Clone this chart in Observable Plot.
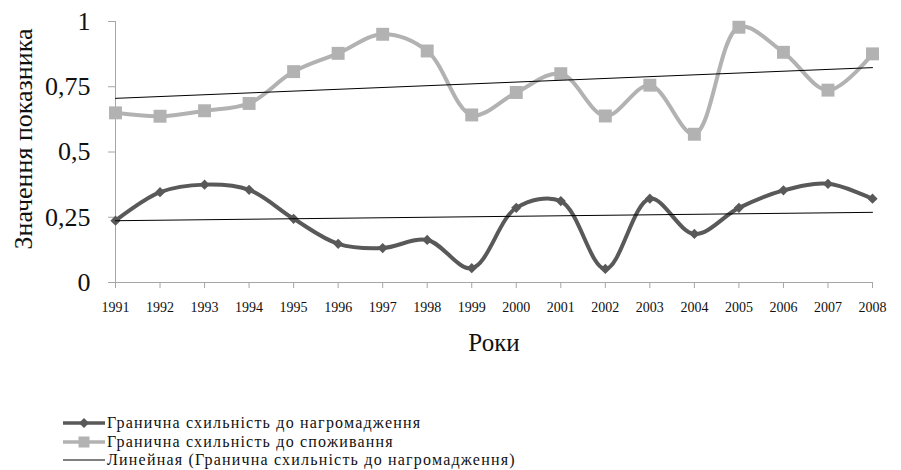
<!DOCTYPE html>
<html><head><meta charset="utf-8">
<script src="https://cdn.jsdelivr.net/npm/d3@7"></script>
<script src="https://cdn.jsdelivr.net/npm/@observablehq/plot@0.6"></script>
<style>
body{margin:0;background:#fff;font-family:"Liberation Serif","DejaVu Serif","Times New Roman",serif;}
#wrap{position:relative;width:901px;height:470px;}
#legend{position:absolute;left:63px;top:414px;font-size:16px;letter-spacing:1.2px;color:#111;line-height:18.5px;}
#legend div{display:flex;align-items:center;height:18.5px;white-space:nowrap;}
#legend svg{margin-right:2px;flex:none;}
</style>
</head><body>
<div id="wrap"><div id="chart"></div>
<div id="legend"></div></div>
<script>
const years = [1991,1992,1993,1994,1995,1996,1997,1998,1999,2000,2001,2002,2003,2004,2005,2006,2007,2008];
const accumulation = [0.237,0.346,0.375,0.355,0.244,0.148,0.132,0.163,0.055,0.286,0.312,0.052,0.321,0.186,0.286,0.353,0.378,0.321];
const consumption = [0.650,0.637,0.658,0.686,0.808,0.878,0.951,0.887,0.642,0.728,0.800,0.638,0.756,0.568,0.978,0.882,0.737,0.876];
const yTicks = [0,0.25,0.5,0.75,1];
const yTickLabels = ["0","0,25","0,5","0,75","1"];
const seriesNames = ["Гранична схильність до нагромадження","Гранична схильність до споживання","Линейная (Гранична схильність до нагромадження)"];
const xTitle = "Роки";
const yTitle = "Значення показника";

const FONT = '"Liberation Serif","DejaVu Serif","Times New Roman",serif';
const dark = "#595959", light = "#b2b2b2", axisCol = "#a6a6a6";
const accData = years.map((x,i)=>({x, y: accumulation[i]}));
const conData = years.map((x,i)=>({x, y: consumption[i]}));

const H = 400;
const chart = Plot.plot({
  width: 901, height: H,
  marginLeft: 115, marginRight: 29, marginTop: 21, marginBottom: H-282,
  style: {fontFamily: FONT, background: "transparent", color: "#111", overflow: "visible"},
  x: {domain: [1991, 2008]},
  y: {domain: [0, 1]},
  marks: [
    Plot.axisY({ticks: yTicks, tickFormat: (d)=>yTickLabels[yTicks.indexOf(d)], tickSize: 7, tickPadding: 18, stroke: axisCol, fontSize: 26, fontFamily: FONT, label: null}),
    Plot.axisX({ticks: years, tickFormat: d=>String(d), tickSize: 6, tickPadding: 14, stroke: axisCol, fontSize: 14, fontFamily: FONT, label: null}),
    Plot.ruleX([1991], {stroke: axisCol}),
    Plot.ruleY([0], {stroke: axisCol}),
    Plot.text([yTitle], {frameAnchor: "left", textAnchor: "middle", rotate: -90, dx: -92, dy: -13, fontSize: 26, fill: "#111", fontFamily: FONT}),
    Plot.text([xTitle], {frameAnchor: "bottom", textAnchor: "middle", dy: 68, fontSize: 25, fill: "#111", fontFamily: FONT}),
    Plot.line(conData, {x: "x", y: "y", stroke: light, strokeWidth: 4, curve: "catmull-rom"}),
    Plot.dot(conData, {x: "x", y: "y", symbol: "square", r: 7.3, fill: light, stroke: "none"}),
    Plot.line(accData, {x: "x", y: "y", stroke: dark, strokeWidth: 4, curve: "catmull-rom"}),
    Plot.dot(accData, {x: "x", y: "y", symbol: "diamond2", r: 4.6, fill: dark, stroke: "none"}),
    Plot.linearRegressionY(accData, {x: "x", y: "y", stroke: "#000", strokeWidth: 1, ci: 0}),
    Plot.linearRegressionY(conData, {x: "x", y: "y", stroke: "#000", strokeWidth: 1, ci: 0})
  ]
});
document.getElementById("chart").appendChild(chart);

const lg = document.getElementById("legend");
const sym = [
  `<svg width="42" height="12"><line x1="0" y1="6" x2="42" y2="6" stroke="${dark}" stroke-width="3.5"/><path d="M21 1 L26 6 L21 11 L16 6Z" fill="${dark}"/></svg>`,
  `<svg width="42" height="12"><line x1="0" y1="6" x2="42" y2="6" stroke="${light}" stroke-width="3.5"/><rect x="15.5" y="0.5" width="11" height="11" fill="${light}"/></svg>`,
  `<svg width="42" height="12"><line x1="0" y1="6" x2="42" y2="6" stroke="#000" stroke-width="1"/></svg>`
];
seriesNames.forEach((n,i)=>{
  const d = document.createElement("div");
  d.innerHTML = sym[i] + `<span>${n}</span>`;
  lg.appendChild(d);
});
</script>
</body></html>
